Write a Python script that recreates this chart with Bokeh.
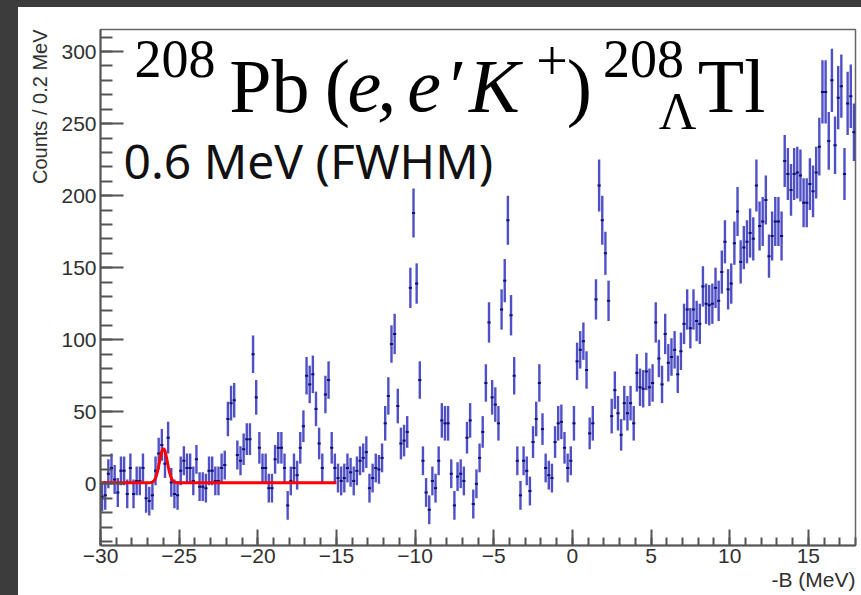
import numpy as np
from bokeh.plotting import figure
from bokeh.models import Label, Title, SingleIntervalTicker, Range1d, ColumnDataSource, Div
from bokeh.layouts import row, column
from bokeh.embed import file_html
from bokeh.resources import INLINE

# ---- histogram: -B from -30 to 18 MeV, 0.2 MeV bins ----
bin_low = -30.0
bin_width = 0.2

counts = [
    -9, -8, 7, 11, 3,        -6, 9, 9, -7, 11,        -7, 2, 2, 11, -10,
    -12, -8, 9, 21, 27,      14, 32, 1, -7, -8,       9, 16, 11, 11, 2,
    17, -2, -2, -3, 9,       9, 2, 2, 11, 13,         45, 56, 58, 20, 16,
    24, 31, 31, 90, 60,      25, 11, 11, -3, -3,      17, 25, 25, 11, -15,
    2, 11, 6, 25, 40,        75, 69, 76, 52, 28,      11, 62, 72, 25, 11,
    4, 2, 4, 11, 8,          2, 9, 16, 18, 22,        -3, 4, 11, 10, 18,
    42, 61, 97, 104, 54,     28, 30, 36, 136, 188,    139, 72, 16, -6, -18,
    2, -3, 16, 44, 42,       42, 7, -15, 5, 7,        2, 32, 44, -14, 0,
    18, 36, 70, 112, 60,     55, 42, 121, 141, 183,   117, 75, 16, -8, 16,
    9, -5, 29, 45, 70,       38, 11, 6, 4, 29,        42, 43, 25, 11, 16,
    42, 85, 93, 99, 79,      35, 42, 128, 207, 183,   160, 127, 47, 65, 49,
    34, 56, 49, 56, 42,      77, 67, 66, 78, 67,      70, 112, 87, 69, 104,
    84, 88, 93, 76, 92,      111, 121, 108, 121, 113, 111, 137, 125, 124, 125,
    136, 127, 147, 168, 135, 139, 167, 189, 154, 164, 168, 174, 170, 207, 179,
    182, 197, 158, 172, 182, 182, 172, 224, 215, 204, 215, 216, 214, 195, 195,
    208, 203, 216, 234, 272, 272, 238, 280, 235, 268, 276, 215, 264, 269, 244,
]

errors = [
    10, 10, 10, 10, 10,  10, 10, 10, 10, 10,  10, 10, 10, 10, 10,
    10, 10, 10, 11, 11,  10, 11, 10, 10, 10,  10, 10, 10, 10, 10,
    10, 10, 10, 10, 10,  10, 10, 10, 10, 10,  12, 12, 12, 10, 10,
    11, 11, 11, 13, 12,  11, 10, 10, 10, 10,  10, 11, 11, 10, 10,
    10, 10, 10, 11, 11,  13, 13, 13, 12, 11,  10, 13, 13, 11, 10,
    10, 10, 10, 10, 10,  10, 10, 10, 10, 11,  10, 10, 10, 10, 10,
    12, 13, 13, 14, 12,  11, 11, 11, 14, 17,  14, 13, 10, 10, 10,
    10, 10, 10, 12, 12,  12, 10, 10, 10, 10,  10, 11, 12, 10, 10,
    10, 11, 13, 14, 12,  12, 12, 14, 15, 17,  14, 13, 10, 10, 10,
    10, 10, 11, 12, 13,  11, 10, 10, 10, 11,  12, 12, 11, 10, 10,
    12, 13, 13, 13, 13,  11, 12, 14, 18, 17,  15, 14, 12, 13, 12,
    11, 12, 12, 12, 12,  13, 13, 13, 13, 13,  13, 14, 13, 13, 14,
    13, 13, 13, 13, 13,  14, 14, 14, 14, 14,  14, 14, 14, 14, 14,
    14, 14, 15, 15, 14,  14, 15, 17, 15, 15,  15, 17, 15, 18, 17,
    17, 17, 15, 17, 17,  17, 17, 18, 18, 18,  18, 18, 18, 17, 17,
    18, 18, 18, 20, 22,  22, 20, 22, 20, 22,  22, 18, 22, 22, 20,
]

# fit: constant + gaussian, 0.6 MeV FWHM
fit_mean = -26.0
fit_fwhm = 0.6
fit_amp = 23.6
fit_const = 0.7
fit_lo, fit_hi = -30.0, -15.0

x_ticks = [-30, -25, -20, -15, -10, -5, 0, 5, 10, 15]
x_tick_labels = ["\u221230", "\u221225", "\u221220", "\u221215", "\u221210", "\u22125", "0", "5", "10", "15"]

x_title = "-B (MeV)"
y_title = "Counts / 0.2 MeV"

FRAME_LINE = "#555555"
TICK_FONT = "Liberation Sans"
SERIF = "Liberation Serif"
TEXT_GRAY = "#303030"

n = len(counts)
centers = bin_low + bin_width * (np.arange(n) + 0.5)
c = np.array(counts, dtype=float)
e = np.array(errors, dtype=float)
src = ColumnDataSource(dict(x=centers, y=c, lo=c - e, hi=c + e,
                            xl=centers - bin_width / 2, xr=centers + bin_width / 2))

p = figure(width=843, height=588, x_range=Range1d(-30, 18), y_range=Range1d(-42.8, 315.3),
           output_backend="svg", toolbar_location=None,
           min_border_left=81, min_border_right=6, min_border_top=22, min_border_bottom=50)
p.background_fill_color = "white"
p.border_fill_color = "white"
p.grid.visible = False
p.outline_line_color = "#666666"
p.outline_line_width = 1.5

for ax in (p.xaxis, p.yaxis):
    ax.axis_line_color = FRAME_LINE
    ax.axis_line_width = 2
    ax.major_tick_line_color = FRAME_LINE
    ax.minor_tick_line_color = FRAME_LINE
    ax.major_tick_line_width = 2
    ax.minor_tick_line_width = 2
    ax.major_tick_out = 0
    ax.minor_tick_out = 0
    ax.major_label_text_font = TICK_FONT
    ax.major_label_text_font_size = "21px"
    ax.major_label_text_color = TEXT_GRAY

p.xaxis.ticker = SingleIntervalTicker(interval=5, num_minor_ticks=5)
p.xaxis.major_tick_in = 16
p.xaxis.minor_tick_in = 8
p.xaxis.major_label_standoff = 3
p.xaxis.major_label_overrides = {t: l for t, l in zip(x_ticks, x_tick_labels)}

p.yaxis.ticker = SingleIntervalTicker(interval=50, num_minor_ticks=5)
p.yaxis.major_tick_in = 23
p.yaxis.minor_tick_in = 12
p.yaxis.major_label_standoff = 4

# axis titles as side titles (ROOT style: at the far end of each axis)
p.add_layout(Title(text=x_title, align="right", text_font=TICK_FONT, text_font_size="21px",
                   text_font_style="normal", text_color=TEXT_GRAY, standoff=0, offset=0), "below")
p.add_layout(Title(text=y_title, align="right", text_font=TICK_FONT, text_font_size="20px",
                   text_font_style="normal", text_color=TEXT_GRAY, standoff=16, offset=0), "left")

# error bars
p.segment(x0="x", y0="lo", x1="x", y1="hi", source=src, line_color="#2424b8",
          line_alpha=0.8, line_width=2.4)
p.segment(x0="xl", y0="y", x1="xr", y1="y", source=src, line_color="#10106e",
          line_width=2)

# fit curve
sigma = fit_fwhm / 2.3548
xf = np.linspace(fit_lo, fit_hi, 601)
yf = fit_const + fit_amp * np.exp(-0.5 * ((xf - fit_mean) / sigma) ** 2)
p.line(xf, yf, line_color="#ff0000", line_width=3)

# reaction title, piece by piece
title_parts = [
    ("208", -27.84, 294.8, "54px", "normal"),
    ("Pb", -21.81, 276.4, "76px", "normal"),
    ("(", -15.75, 276.4, "76px", "normal"),
    ("e", -14.3, 276.4, "76px", "italic"),
    (",", -12.4, 276.4, "76px", "italic"),
    ("e", -10.5, 276.4, "76px", "italic"),
    ("\u2032", -7.8, 276.4, "76px", "normal"),
    ("K", -6.57, 276.4, "76px", "italic"),
    ("+", -2.3, 293.5, "56px", "normal"),
    (")", -0.35, 276.4, "76px", "normal"),
    ("208", 1.94, 294.8, "54px", "normal"),
    ("\u039b", 5.49, 258.4, "52px", "normal"),
    ("Tl", 7.97, 276.4, "76px", "normal"),
]
for txt, tx, ty, size, style in title_parts:
    p.add_layout(Label(x=tx, y=ty, text=txt, text_align="left", text_baseline="alphabetic",
                       text_font=SERIF, text_font_size=size, text_font_style=style,
                       text_color="black"))

p.add_layout(Label(x=-28.54, y=224.7, text="0.6 MeV (FWHM)", text_align="left",
                   text_baseline="alphabetic", text_font="Noto Sans", text_font_size="48px",
                   text_color="#111111"))

DARK = "#3c3c3c"
left_strip = Div(text="", width=18, height=595, margin=0, styles={"background-color": DARK})
top_strip = Div(text="", width=843, height=7, margin=0, styles={"background-color": DARK})
layout = row(left_strip, column(top_strip, p, spacing=0), spacing=0)

open("out.html", "w").write(file_html(layout, INLINE))
